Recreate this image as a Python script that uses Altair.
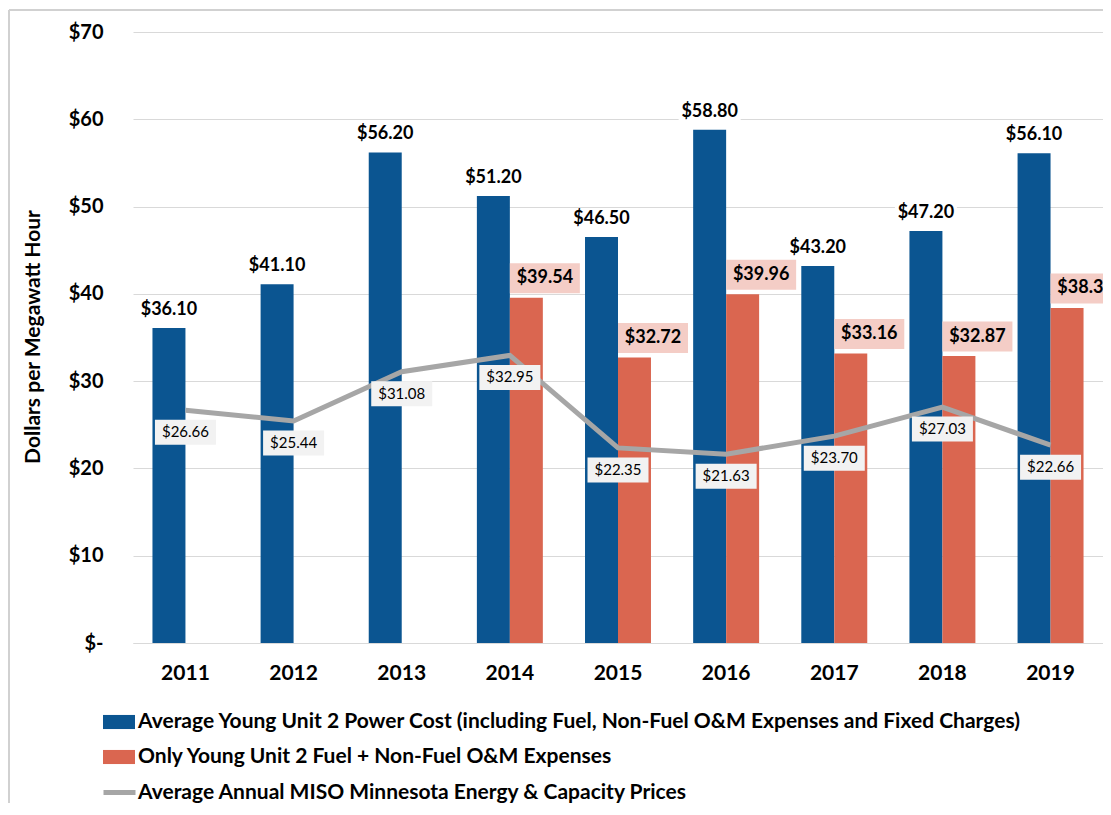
import altair as alt
import pandas as pd

years = ["2011", "2012", "2013", "2014", "2015", "2016", "2017", "2018", "2019"]
power_cost = [36.10, 41.10, 56.20, 51.20, 46.50, 58.80, 43.20, 47.20, 56.10]
fuel_om = [None, None, None, 39.54, 32.72, 39.96, 33.16, 32.87, 38.38]
miso = [26.66, 25.44, 31.08, 32.95, 22.35, 21.63, 23.70, 27.03, 22.66]

S1 = "Average Young Unit 2 Power Cost (including Fuel, Non-Fuel O&M Expenses and Fixed Charges)"
S2 = "Only Young Unit 2 Fuel + Non-Fuel O&M Expenses"
S3 = "Average Annual MISO Minnesota Energy & Capacity Prices"

BLUE = "#0B5591"
ORANGE = "#DA6650"
GRAY = "#A6A6A6"
PINK = "#F4CDC6"
FONT = "Lato"

rows = []
for y, v in zip(years, power_cost):
    rows.append({"year": y, "series": S1, "value": v})
for y, v in zip(years, fuel_om):
    if v is not None:
        rows.append({"year": y, "series": S2, "value": v})
bars_df = pd.DataFrame(rows)
line_df = pd.DataFrame({"year": years, "series": S3, "value": miso})

W, H = 970, 611

x_enc = alt.X("year:N", sort=years,
              scale=alt.Scale(paddingInner=0.39, paddingOuter=0.18),
              axis=alt.Axis(title=None, labelAngle=0, labelFont=FONT, labelFontSize=21,
                            labelFontWeight="bold", labelColor="black", labelPadding=19,
                            ticks=False, domain=True, domainColor="#D9D9D9"))
y_enc = alt.Y("value:Q", scale=alt.Scale(domain=[0, 70], nice=False),
              axis=alt.Axis(title="Dollars per Megawatt Hour", values=[0, 10, 20, 30, 40, 50, 60, 70],
                            labelExpr="datum.value == 0 ? '$-' : '$' + datum.value",
                            labelFont=FONT, labelFontSize=20, labelFontWeight="bold",
                            labelColor="black", labelPadding=30, ticks=False, domain=False,
                            grid=True, gridColor="#D9D9D9", gridWidth=1,
                            titleFont=FONT, titleFontSize=21, titleFontWeight="bold",
                            titleColor="black", titleX=-100, titleY=H / 2 - 1, titleAngle=-90,
                            titleAlign="center", titleBaseline="middle"))

base_bars = alt.Chart(bars_df).transform_calculate(
    label="'$' + format(datum.value, '.2f')")

bars = base_bars.mark_bar().encode(
    x=x_enc,
    xOffset=alt.XOffset("series:N", sort=[S1, S2],
                        scale=alt.Scale(domain=[S1, S2], paddingInner=0, paddingOuter=0)),
    y=y_enc,
    fill=alt.Fill("series:N", scale=alt.Scale(domain=[S1, S2], range=[BLUE, ORANGE]),
                  legend=alt.Legend(title=None, orient="none", legendX=-30, legendY=674,
                                    direction="vertical",
                                    symbolType="M-1,-0.44H1V0.44H-1Z", symbolSize=1024,
                                    symbolStrokeWidth=0, rowPadding=9, labelOffset=3,
                                    labelFont=FONT, labelFontSize=21, labelFontWeight="bold",
                                    labelColor="black", labelLimit=2000, padding=0)),
)

line = alt.Chart(line_df).mark_line(strokeWidth=5).encode(
    x=alt.X("year:N", sort=years),
    y="value:Q",
    stroke=alt.Stroke("series:N", scale=alt.Scale(domain=[S3], range=[GRAY]),
                      legend=alt.Legend(title=None, orient="none", legendX=-32, legendY=742,
                                        symbolType="stroke", symbolSize=1024,
                                        symbolStrokeWidth=5, labelOffset=0,
                                        labelFont=FONT, labelFontSize=21, labelFontWeight="bold",
                                        labelColor="black", labelLimit=2000, padding=0)),
)

line_base = alt.Chart(line_df).transform_calculate(
    label="'$' + format(datum.value, '.2f')").encode(
    x=alt.X("year:N", sort=years), y="value:Q")
line_box = line_base.mark_point(shape="M-1,-0.41H1V0.41H-1Z", size=3721, filled=True,
                                color="#F2F2F2", opacity=1, yOffset=22)
line_text = line_base.mark_text(dy=22, font=FONT, fontSize=15, color="black",
                                baseline="middle").encode(text="label:N")

blue_base = base_bars.transform_filter(alt.datum.series == S1).encode(
    x=alt.X("year:N", sort=years), y="value:Q")
blue_bg = blue_base.mark_point(shape="M-1,-0.355H1V0.355H-1Z", size=3844, filled=True,
                               color="white", opacity=1, xOffset=-16.5, yOffset=-18)
blue_text = blue_base.mark_text(dx=-16.5, dy=-18, font=FONT, fontSize=18, fontWeight="bold",
                                color="black", baseline="middle").encode(text="label:N")

or_base = base_bars.transform_filter(alt.datum.series == S2).encode(
    x=alt.X("year:N", sort=years), y="value:Q")
or_box = or_base.mark_point(shape="M-1,-0.4286H1V0.4286H-1Z", size=4900, filled=True,
                            color=PINK, opacity=1, xOffset=35, yOffset=-19.5)
or_text = or_base.mark_text(dx=35, dy=-19.5, font=FONT, fontSize=18, fontWeight="bold",
                            color="black", baseline="middle").encode(text="label:N")

frame_v = alt.Chart(line_df).mark_rule(color="#D0D0D0", strokeWidth=1.5).encode(
    x=alt.value(-124), y=alt.value(-22), y2=alt.value(H + 300))
frame_h = alt.Chart(line_df).mark_rule(color="#D0D0D0", strokeWidth=1.5).encode(
    x=alt.value(-124), x2=alt.value(W + 200), y=alt.value(-22))

chart = alt.layer(
    bars, line, line_box, line_text, blue_bg, blue_text, or_box, or_text, frame_v, frame_h
).resolve_scale(x="shared").properties(
    width=W, height=H,
    autosize=alt.AutoSizeParams(type="none"),
    padding={"left": 125, "top": 24, "right": 0, "bottom": 160},
).configure_view(stroke=None)

chart.save("out.html", embed_options={"renderer": "svg", "actions": False})
